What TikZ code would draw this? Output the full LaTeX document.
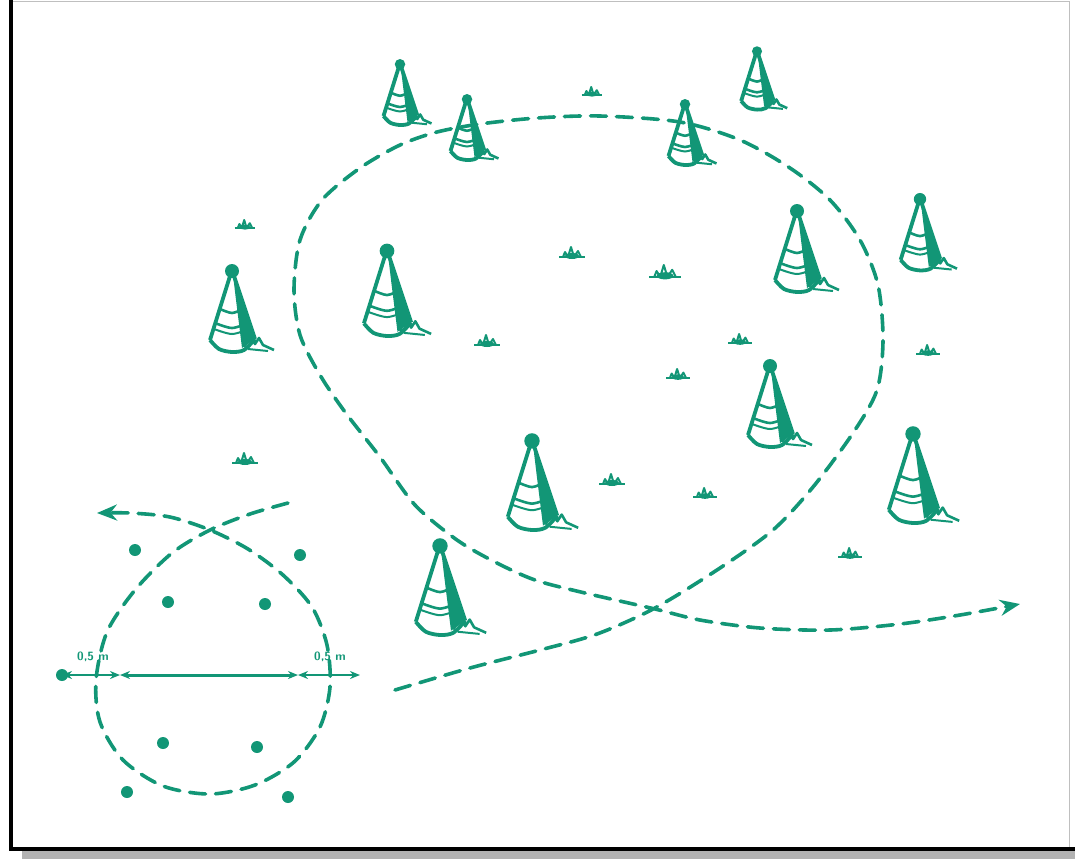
\documentclass[tikz,border=0pt]{standalone}
\usepackage{xcolor}
\usepackage{tikz}
\usetikzlibrary{arrows.meta}
\definecolor{conegreen}{RGB}{18,150,118}

\tikzset{
  track/.style={conegreen, line width=1.8pt, dash pattern=on 8pt off 5pt, line cap=round},
  dimline/.style={conegreen, line width=0.8pt, {Stealth[length=5pt,width=4pt]}-{Stealth[length=5pt,width=4pt]}},
  pics/cone/.style={code={
    % dark right flank
    \fill (1,3) -- (23,67) -- (10,76) -- (4,28) -- cycle;
    \draw[line width=1.9pt, line join=round] (-2,4) -- (-22,68);
    \draw[line width=1.9pt, line join=round] (2,4) -- (23,67);
    \draw[line width=1.9pt] plot[smooth] coordinates {(-22,68) (-13,77) (0,80) (12,78) (23,67)};
    % stripes
    \draw[line width=1.3pt] plot[smooth] coordinates {(-12,37) (0,41) (11,37)};
    \draw[line width=1.3pt] plot[smooth] coordinates {(-17,51) (0,56) (16,51)};
    \draw[line width=1pt] plot[smooth] coordinates {(-18,57) (0,62) (17,57)};
    % grass at the foot
    \draw[line width=1.3pt, line join=round] (12,75) -- (19,64) -- (23,72) -- (27,66) -- (31,73) -- (42,78);
    \draw[line width=1pt] (16,77) -- (36,79);
    \fill (0,-1) circle (7);
  }},
  pics/tuft/.style={code={
    \draw[line width=1.3pt] (-13,0) -- (13,0);
    \draw[line width=1pt, line join=round] (-9,0) -- (-7,-5) -- (-4,0) -- (-1,-10) -- (2,0) -- (6,-6) -- (9,0);
    \fill (0,-1) ellipse (7 and 3);
  }},
}

\begin{document}
\begin{tikzpicture}[x=0.5pt, y=-0.5pt]
\newcommand{\Smallcone}{0.75}; % far cones
\newcommand{\Bigcone}{1.05}; % near cones
\useasboundingbox (0,0) rectangle (1075,859);

% frame
\draw[black!25, line width=0.5pt] (11,1) -- (1069,1) -- (1069,849);
\fill[black!30] (22,851) rectangle (1075,859);
\draw[black, line width=1.7pt] (11,0) -- (11,849) -- (1075,849);

% cones
\pic[conegreen, scale=\Smallcone] at (400,65) {cone};
\pic[conegreen, scale=\Smallcone] at (467,100) {cone};
\pic[conegreen, scale=\Smallcone] at (685,105) {cone};
\pic[conegreen, scale=0.72] at (757,52) {cone};
\pic[conegreen, scale=1.0] at (232,272) {cone};
\pic[conegreen, scale=\Bigcone] at (387,252) {cone};
\pic[conegreen, scale=1.0] at (797,212) {cone};
\pic[conegreen, scale=0.88] at (920,200) {cone};
\pic[conegreen, scale=1.0] at (770,367) {cone};
\pic[conegreen, scale=1.1] at (532,442) {cone};
\pic[conegreen, scale=1.1] at (913,435) {cone};
\pic[conegreen, scale=1.1] at (440,547) {cone};

% grass
\pic[conegreen, scale=0.8] at (245,228) {tuft};
\pic[conegreen, scale=0.8] at (592,95) {tuft};
\pic[conegreen] at (572,257) {tuft};
\pic[conegreen, scale=1.2] at (665,277) {tuft};
\pic[conegreen] at (487,345) {tuft};
\pic[conegreen, scale=0.9] at (740,343) {tuft};
\pic[conegreen, scale=0.9] at (678,378) {tuft};
\pic[conegreen, scale=0.9] at (928,354) {tuft};
\pic[conegreen] at (245,463) {tuft};
\pic[conegreen] at (612,484) {tuft};
\pic[conegreen, scale=0.9] at (705,497) {tuft};
\pic[conegreen, scale=0.9] at (850,557) {tuft};

% big loop through the cones
\draw[track, -{Stealth[length=10pt,width=8pt]}] plot[smooth] coordinates {
  (395,690) (470,668) (540,650) (597,634) (655,608) (720,568) (773,530)
  (813,487) (853,433) (877,390) (883,340) (878,285) (860,240) (830,200)
  (790,168) (740,140) (680,122) (600,116) (537,118) (480,124) (437,132)
  (400,145) (360,168) (322,200) (300,240) (294,290) (300,335) (320,375)
  (345,412) (380,457) (415,505) (457,540) (495,562) (535,580) (585,593)
  (655,609) (700,620) (760,628) (830,630) (900,624) (960,615) (1020,604)};

% small loop round the ring of dots
\draw[track, -{Stealth[length=10pt,width=8pt]}] plot[smooth] coordinates {
  (288,503) (250,514) (210,530) (172,553) (135,590) (107,632) (96,680)
  (100,722) (123,760) (163,786) (210,794) (255,785) (294,762) (320,727)
  (330,687) (327,645) (312,607) (283,575) (248,549) (210,530) (170,517)
  (130,513) (97,513)};

\foreach \p in {(135,550), (300,555), (168,602), (265,604), (163,743), (257,747), (127,792), (288,797)}
  \fill[conegreen] \p circle (6);

% measure line
\coordinate (M0) at (62,675);
\coordinate (M1) at (120,675);
\coordinate (M2) at (298,675);
\coordinate (M3) at (360,675);
\fill[conegreen] (M0) circle (6);
\draw[dimline] (M0) -- (M1);
\draw[dimline, line width=1.5pt] (M1) -- (M2);
\draw[dimline] (M2) -- (M3);
\node[conegreen, font=\fontsize{6}{7}\selectfont\sffamily\bfseries] (lblL) at (93,657) {0,5 m};
\node[conegreen, font=\fontsize{6}{7}\selectfont\sffamily\bfseries] (lblR) at (330,657) {0,5 m};
\end{tikzpicture}
\end{document}
